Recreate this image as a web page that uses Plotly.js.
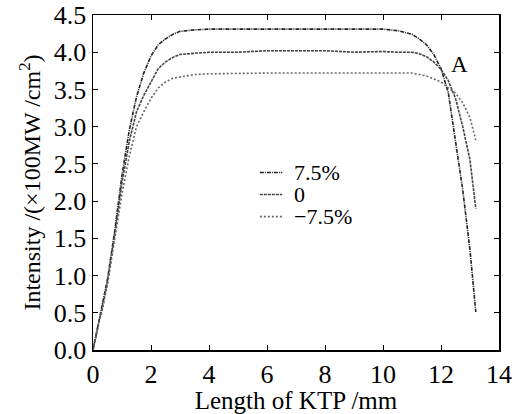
<!DOCTYPE html>
<html><head><meta charset="utf-8">
<script src="https://cdn.plot.ly/plotly-3.0.1.min.js"></script>
<style>html,body{margin:0;padding:0;background:#fff}#chart{width:512px;height:414px}</style>
</head><body><div id="chart"></div>
<script>
const xLen = [0,0.1,0.2,0.3,0.5,0.75,1.0,1.25,1.5,1.75,2.0,2.25,2.5,2.75,3.0,3.5,4,5,6,7,8,9,10,10.5,11,11.25,11.5,11.75,12.0,12.25,12.5,12.75,13.0,13.2];
const yPlus = [0,0.2,0.38,0.55,0.95,1.6,2.35,2.95,3.4,3.72,3.95,4.1,4.18,4.24,4.28,4.3,4.31,4.31,4.31,4.31,4.31,4.31,4.31,4.29,4.24,4.18,4.1,3.97,3.78,3.46,2.8,2.15,1.34,0.51];
const yZero = [0,0.2,0.37,0.53,0.92,1.55,2.25,2.8,3.2,3.42,3.6,3.78,3.87,3.93,3.97,3.99,4.0,4.0,4.02,4.02,4.02,4.0,4.01,4.0,4.0,3.98,3.94,3.87,3.77,3.62,3.38,3.0,2.55,1.9];
const yMinus = [0,0.19,0.36,0.5,0.88,1.5,2.1,2.6,3.0,3.2,3.38,3.52,3.6,3.65,3.67,3.7,3.71,3.72,3.72,3.72,3.72,3.72,3.73,3.72,3.72,3.7,3.68,3.64,3.6,3.52,3.45,3.32,3.12,2.82];
const names = ["7.5%","0","\u22127.5%"];
const colors = ["#222","#444","#666"];
const dashes = ["4px,1px,1px,1px","3px,1px","2px,2px"];
const series = [yPlus,yZero,yMinus];

const font = "'Liberation Serif', 'Times New Roman', serif";
const traces = series.map((y,i)=>({x:xLen,y:y,type:"scatter",mode:"lines",name:names[i],
  line:{color:colors[i],width:1.6,dash:dashes[i]},showlegend:false}));

const legY = [0.53,0.464,0.398];
const shapes = [], annotations = [];
names.forEach((n,i)=>{
  shapes.push({type:"line",xref:"paper",yref:"paper",x0:0.411,x1:0.466,y0:legY[i],y1:legY[i],
    line:{color:colors[i],width:1.6,dash:dashes[i]}});
  annotations.push({xref:"paper",yref:"paper",x:0.49,y:legY[i],xanchor:"left",yanchor:"middle",
    text:n,showarrow:false,font:{family:font,size:22,color:"#000"}});
});
annotations.push({xref:"x",yref:"y",x:12.65,y:3.84,text:"A",showarrow:false,font:{family:font,size:23,color:"#000"}});

const axisCommon = {showgrid:false,zeroline:false,showline:true,linecolor:"#000",linewidth:1.5,
  ticks:"inside",ticklen:5,tickcolor:"#000",mirror:"ticks",ticklabeloverflow:"allow",
  tickfont:{family:font,size:26,color:"#000"}};

Plotly.newPlot("chart",traces,{
  width:512,height:414,margin:{l:93,r:13,t:15,b:64},paper_bgcolor:"#fff",plot_bgcolor:"#fff",
  font:{family:font,color:"#000"},
  xaxis:Object.assign({},axisCommon,{range:[0,14],tickvals:[0,2,4,6,8,10,12,14],
    title:{text:"Length of KTP /mm",font:{family:font,size:25,color:"#000"},standoff:2}}),
  yaxis:Object.assign({},axisCommon,{range:[0,4.5],tickvals:[0,0.5,1,1.5,2,2.5,3,3.5,4,4.5],tickformat:".1f",
    title:{text:"Intensity /(\u00d7100MW /cm<sup>2</sup>)",font:{family:font,size:24,color:"#000"},standoff:6}}),
  shapes:shapes,annotations:annotations
},{staticPlot:true});
</script></body></html>
